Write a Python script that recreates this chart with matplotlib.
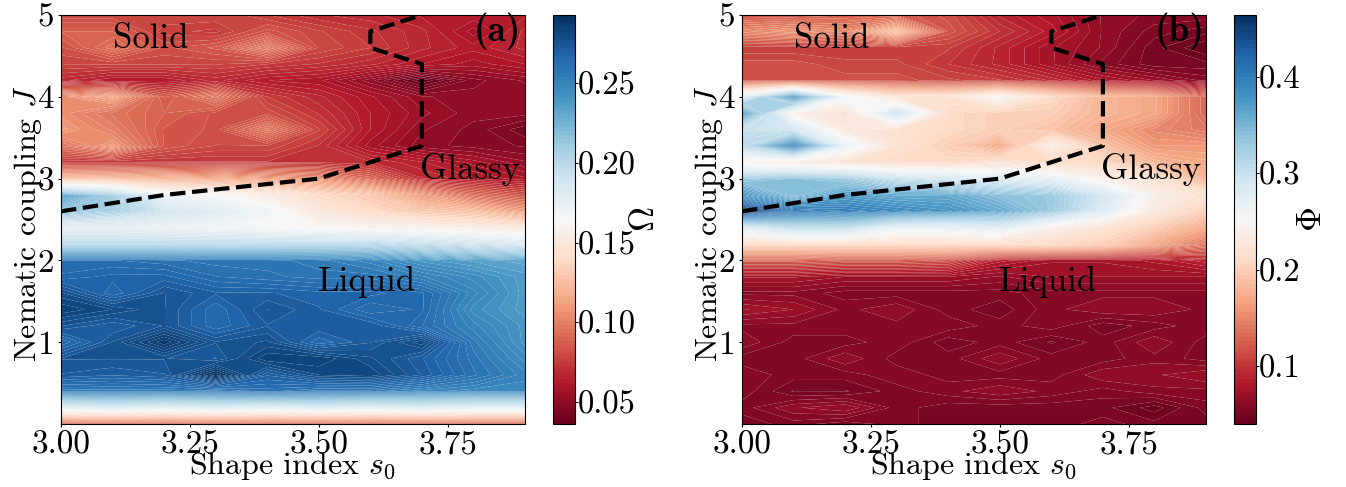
import numpy as np
import matplotlib
matplotlib.use("Agg")
import matplotlib.pyplot as plt

plt.rcParams['font.family'] = 'cmr10'
plt.rcParams['mathtext.fontset'] = 'cm'
plt.rcParams['axes.formatter.use_mathtext'] = True
plt.rcParams['axes.unicode_minus'] = False

s0_values = [3.0, 3.1, 3.2, 3.3, 3.4, 3.5, 3.6, 3.7, 3.8, 3.9]
J_values = [5.0, 4.8, 4.6, 4.4, 4.2, 4.0, 3.8, 3.6, 3.4, 3.2, 3.0, 2.8, 2.6,
            2.4, 2.2, 2.0, 1.8, 1.6, 1.4, 1.2, 1.0, 0.8, 0.6, 0.4, 0.2, 0.0]

# rows go from J=5 down to J=0
omega = [
    [.078, .078, .080, .080, .075, .070, .068, .064, .064, .064],
    [.088, .088, .076, .074, .084, .078, .073, .068, .058, .068],
    [.082, .095, .082, .086, .102, .080, .075, .068, .063, .068],
    [.078, .078, .078, .078, .075, .072, .068, .062, .058, .062],
    [.068, .062, .062, .068, .062, .060, .050, .036, .048, .052],
    [.105, .115, .085, .100, .075, .068, .060, .052, .050, .050],
    [.105, .095, .088, .082, .082, .072, .062, .055, .050, .050],
    [.110, .100, .085, .082, .100, .078, .062, .052, .048, .042],
    [.095, .110, .085, .080, .080, .072, .058, .050, .048, .046],
    [.072, .072, .072, .072, .072, .072, .070, .065, .058, .052],
    [.125, .122, .118, .115, .110, .105, .090, .070, .065, .060],
    [.235, .210, .170, .165, .155, .140, .130, .110, .092, .082],
    [.215, .205, .190, .180, .170, .150, .140, .130, .125, .110],
    [.175, .175, .172, .168, .165, .162, .160, .158, .155, .150],
    [.200, .200, .200, .200, .200, .200, .200, .195, .190, .185],
    [.262, .262, .260, .258, .258, .255, .250, .240, .235, .232],
    [.265, .268, .268, .262, .260, .258, .258, .252, .245, .237],
    [.278, .265, .275, .270, .270, .268, .268, .265, .250, .237],
    [.285, .280, .275, .265, .275, .270, .262, .265, .245, .237],
    [.275, .270, .275, .265, .272, .272, .272, .262, .250, .240],
    [.262, .275, .290, .275, .278, .265, .272, .282, .255, .240],
    [.275, .275, .275, .272, .285, .285, .278, .270, .258, .245],
    [.272, .270, .272, .293, .270, .280, .282, .272, .260, .250],
    [.255, .255, .255, .255, .260, .255, .255, .250, .247, .247],
    [.180, .185, .180, .185, .180, .185, .180, .185, .180, .180],
    [.085, .085, .085, .085, .085, .085, .085, .085, .085, .085],
]

phi = [
    [.120, .120, .125, .125, .115, .090, .080, .065, .060, .060],
    [.150, .160, .150, .190, .120, .100, .085, .065, .055, .050],
    [.105, .105, .105, .105, .105, .090, .075, .065, .050, .040],
    [.115, .115, .110, .110, .100, .090, .075, .060, .050, .050],
    [.115, .115, .115, .115, .110, .105, .095, .080, .070, .060],
    [.280, .390, .260, .220, .220, .250, .210, .180, .170, .130],
    [.380, .240, .220, .300, .210, .200, .200, .180, .170, .130],
    [.300, .290, .230, .220, .210, .200, .190, .170, .150, .140],
    [.310, .410, .270, .220, .200, .170, .240, .190, .160, .160],
    [.240, .230, .220, .210, .210, .220, .210, .210, .180, .170],
    [.330, .340, .330, .300, .290, .280, .270, .240, .220, .180],
    [.380, .340, .370, .360, .360, .340, .330, .290, .240, .220],
    [.464, .410, .400, .390, .380, .360, .330, .280, .230, .200],
    [.280, .310, .310, .270, .270, .280, .240, .220, .200, .170],
    [.210, .210, .210, .210, .210, .210, .210, .200, .170, .140],
    [.125, .125, .120, .120, .115, .085, .075, .075, .080, .090],
    [.075, .075, .070, .070, .070, .065, .070, .070, .070, .070],
    [.060, .060, .055, .055, .055, .055, .060, .060, .060, .060],
    [.075, .070, .060, .065, .055, .050, .060, .065, .065, .060],
    [.060, .060, .060, .060, .060, .055, .060, .050, .055, .060],
    [.065, .055, .055, .060, .050, .055, .048, .055, .065, .055],
    [.055, .055, .065, .055, .055, .065, .055, .055, .060, .055],
    [.060, .055, .055, .060, .055, .055, .055, .065, .065, .070],
    [.060, .048, .048, .055, .060, .065, .060, .055, .060, .060],
    [.055, .065, .070, .055, .050, .050, .050, .050, .042, .055],
    [.050, .055, .050, .055, .050, .050, .050, .055, .050, .050],
]

boundary_s0 = [3.0, 3.2, 3.5, 3.7, 3.7, 3.6, 3.6, 3.7]
boundary_J = [2.6, 2.8, 3.0, 3.4, 4.4, 4.6, 4.8, 5.0]

W = 1346.0
H = 487.0


def panel(left, cleft, data, name, name_x, cticks, ctick_labels, tag):
    ax = fig.add_axes([left / W, 1 - 424 / H, 464 / W, 409 / H])
    cax = fig.add_axes([cleft / W, 1 - 424 / H, 22 / W, 409 / H])
    z = np.array(data)
    levels = np.linspace(z.min(), z.max(), 100)
    cs = ax.contourf(s0_values, J_values, z, levels=levels, cmap='RdBu', antialiased=True)
    ax.plot(boundary_s0, boundary_J, color='black', ls='--', lw=3)
    ax.set_xlim(3.0, 3.9)
    ax.set_ylim(0, 5)
    ax.set_xticks([3.0, 3.25, 3.5, 3.75])
    ax.set_xticklabels(['3.00', '3.25', '3.50', '3.75'])
    ax.set_yticks([1, 2, 3, 4, 5])
    ax.set_yticklabels(['1', '2', '3', '4', '5'])
    ax.tick_params(labelsize=24, length=2, pad=3)
    ax.set_xlabel(r'Shape index $s_0$', fontsize=23)
    ax.xaxis.set_label_coords(0.5, -0.103, transform=ax.transAxes)
    ax.xaxis.label.set_va('center')
    ax.set_ylabel(r'Nematic coupling $J$', fontsize=23)
    ax.yaxis.set_label_coords(-0.072, 0.49, transform=ax.transAxes)
    ax.yaxis.label.set_va('center')
    ax.text(3.1, 4.6, 'Solid', fontsize=25)
    ax.text(3.498, 1.62, 'Liquid', fontsize=25)
    ax.text(3.697, 3.0, 'Glassy', fontsize=25)
    ax.text(3.8, 4.68, tag, fontsize=27, family='cmb10')
    cb = fig.colorbar(cs, cax=cax)
    cb.set_ticks(cticks)
    cb.set_ticklabels(ctick_labels)
    cb.ax.tick_params(labelsize=23.5, length=2, pad=0)
    cb.set_label(name, fontsize=25, rotation=90)
    cb.ax.yaxis.set_label_coords(name_x, 0.5, transform=cb.ax.transAxes)
    cb.ax.yaxis.label.set_va('center')


fig = plt.figure(figsize=(W / 100, H / 100), dpi=100)
panel(61, 553, omega, r'$\Omega$', 4.2, [.05, .10, .15, .20, .25],
      ['0.05', '0.10', '0.15', '0.20', '0.25'], '(a)')
panel(742, 1234, phi, r'$\Phi$', 3.56, [.1, .2, .3, .4],
      ['0.1', '0.2', '0.3', '0.4'], '(b)')
fig.savefig('out.png', dpi=100)
